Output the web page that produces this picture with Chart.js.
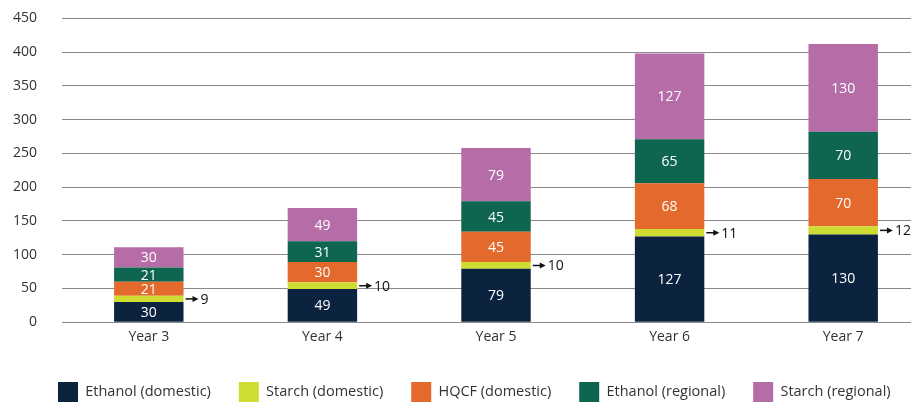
<!DOCTYPE html>
<html>
<head>
<meta charset="utf-8">
<script src="https://cdn.jsdelivr.net/npm/chart.js@4/dist/chart.umd.min.js"></script>
<style>
  html, body { margin: 0; padding: 0; background: #fff; overflow: hidden; }
  #wrap { width: 930px; height: 422px; margin-top: -15px; }
</style>
</head>
<body>
<div id="wrap"><canvas id="chart"></canvas></div>
<script>
// 年ごとの積み上げデータ
const years = ["Year 3", "Year 4", "Year 5", "Year 6", "Year 7"];
const ethanolDomestic = [30, 49, 79, 127, 130];
const starchDomestic = [9, 10, 10, 11, 12];
const hqcfDomestic = [21, 30, 45, 68, 70];
const ethanolRegional = [21, 31, 45, 65, 70];
const starchRegional = [30, 49, 79, 127, 130];
const yTicks = [0, 50, 100, 150, 200, 250, 300, 350, 400, 450];

const FONT = "'Open Sans', sans-serif";

// 値ラベル：基本はバーの中に白字、Starch (domestic) だけ右側に矢印付き
const valueLabels = {
    id: "valueLabels",
    afterDatasetsDraw(chart) {
        const ctx = chart.ctx;
        ctx.save();
        ctx.font = "14px " + FONT;
        ctx.textBaseline = "middle";
        chart.data.datasets.forEach((ds, i) => {
            const meta = chart.getDatasetMeta(i);
            meta.data.forEach((bar, j) => {
                const v = ds.data[j];
                const yMid = (bar.y + bar.base) / 2;
                if (ds.outside) {
                    const x0 = bar.x + bar.width / 2 + 2;
                    ctx.strokeStyle = "#111";
                    ctx.fillStyle = "#111";
                    ctx.lineWidth = 1.5;
                    ctx.beginPath();
                    ctx.moveTo(x0, yMid);
                    ctx.lineTo(x0 + 9, yMid);
                    ctx.stroke();
                    ctx.beginPath();
                    ctx.moveTo(x0 + 13, yMid);
                    ctx.lineTo(x0 + 7, yMid - 3);
                    ctx.lineTo(x0 + 7, yMid + 3);
                    ctx.closePath();
                    ctx.fill();
                    ctx.textAlign = "left";
                    ctx.fillText(String(v), x0 + 15, yMid + 1);
                } else {
                    ctx.fillStyle = "#fff";
                    ctx.textAlign = "center";
                    ctx.fillText(String(v), bar.x, yMid + 1);
                }
            });
        });
        ctx.restore();
    },
};

// 凡例の高さと位置を調整
const legendPlace = {
    id: "legendPlace",
    beforeInit(chart) {
        const fit = chart.legend.fit;
        chart.legend.fit = function () {
            fit.bind(chart.legend)();
            this.height = 64;
        };
    },
    afterLayout(chart) {
        chart.legend.top += 11;
        chart.legend.left = 30;
    },
};

new Chart(document.getElementById("chart"), {
    type: "bar",
    data: {
        labels: years,
        datasets: [
            { label: "Ethanol (domestic)", data: ethanolDomestic, backgroundColor: "#0c2340" },
            { label: "Starch (domestic)", data: starchDomestic, backgroundColor: "#cfdc32", outside: true },
            { label: "HQCF (domestic)", data: hqcfDomestic, backgroundColor: "#e4692c" },
            { label: "Ethanol (regional)", data: ethanolRegional, backgroundColor: "#0e6650" },
            { label: "Starch (regional)", data: starchRegional, backgroundColor: "#b56ca7" },
        ],
    },
    options: {
        responsive: true,
        maintainAspectRatio: false,
        animation: false,
        layout: { padding: { top: -5, left: 0, right: 0, bottom: 0 } },
        datasets: { bar: { barPercentage: 1, categoryPercentage: 0.4 } },
        scales: {
            x: {
                stacked: true,
                grid: { display: false },
                border: { display: false },
                ticks: { color: "#333", font: { family: FONT, size: 14 }, padding: -2 },
            },
            y: {
                stacked: true,
                min: 0,
                max: 450,
                afterFit: (scale) => { scale.width = 62; },
                afterBuildTicks: (scale) => { scale.ticks = yTicks.map((v) => ({ value: v })); },
                grid: { color: "#8a8a8a", lineWidth: 1, drawTicks: false },
                border: { display: false },
                ticks: { color: "#333", font: { family: FONT, size: 14 }, padding: 25 },
            },
        },
        plugins: {
            legend: {
                position: "bottom",
                align: "start",
                labels: {
                    boxWidth: 20,
                    boxHeight: 20,
                    padding: 28,
                    color: "#333",
                    font: { family: FONT, size: 14.5 },
                },
            },
            tooltip: { enabled: false },
        },
    },
    plugins: [valueLabels, legendPlace],
});
</script>
</body>
</html>
